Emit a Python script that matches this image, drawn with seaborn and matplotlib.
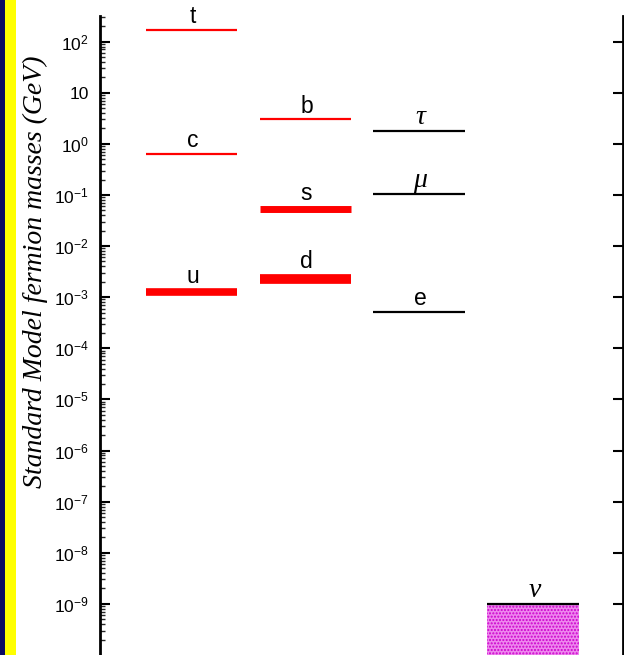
import pandas as pd
import matplotlib
matplotlib.use("Agg")
import matplotlib.pyplot as plt
from matplotlib.patches import Rectangle
from matplotlib.ticker import FixedLocator, FixedFormatter, LogLocator, NullFormatter
import seaborn as sns

# data
names = ["t", "c", "u", "b", "s", "d", "τ", "μ", "e", "ν"]
families = ["up", "up", "up", "down", "down", "down", "lepton", "lepton", "lepton", "neutrino"]
masses = [172.0, 0.63, 0.00125, 3.0, 0.053, 0.0023, 1.78, 0.106, 0.000511, 1e-9]
family_order = ["up", "down", "lepton", "neutrino"]

tick_values = [1e-9, 1e-8, 1e-7, 1e-6, 1e-5, 1e-4, 1e-3, 1e-2, 1e-1, 1e0, 1e1, 1e2]
tick_labels = ["$10^{-9}$", "$10^{-8}$", "$10^{-7}$", "$10^{-6}$", "$10^{-5}$", "$10^{-4}$",
               "$10^{-3}$", "$10^{-2}$", "$10^{-1}$", "$10^{0}$", "10", "$10^{2}$"]

df = pd.DataFrame({"name": names, "family": families, "mass": masses})
df["x"] = df["family"].map({f: i for i, f in enumerate(family_order)})

# styles
thick = {"u": 5.5, "s": 5.0, "d": 7.0}
family_color = {"up": "red", "down": "red", "lepton": "black", "neutrino": "black"}
greek = {"τ", "μ", "ν"}
half = 0.40

sns.set_theme(style="ticks")
plt.rcParams["font.family"] = ["Liberation Sans", "DejaVu Sans"]
plt.rcParams["mathtext.fontset"] = "custom"
plt.rcParams["mathtext.rm"] = "Liberation Sans"
plt.rcParams["mathtext.it"] = "Liberation Sans:italic"

fig = plt.figure(figsize=(6.24, 6.55), dpi=100)
ax = fig.add_axes([100 / 624, 0.0, 523 / 624, 1 - 16 / 655])

# left colour strip
fig.patches.append(Rectangle((0, 0), 4.5 / 624, 1, transform=fig.transFigure,
                             facecolor="#0b0b62", edgecolor="none"))
fig.patches.append(Rectangle((4.5 / 624, 0), 11.5 / 624, 1, transform=fig.transFigure,
                             facecolor="#ffff00", edgecolor="none"))

# neutrino box
nu = df[df["family"] == "neutrino"]
ax.bar(nu["x"], nu["mass"] - 1e-13, bottom=1e-13, width=2 * half,
       facecolor="#ee88ee", edgecolor="#cc00cc", hatch=".....", linewidth=0, zorder=1)

for _, row in df.iterrows():
    lw = thick.get(row["name"], 1.6)
    ax.hlines(row["mass"], row["x"] - half, row["x"] + half,
              color=family_color[row["family"]], linewidth=lw, zorder=3)
    if row["name"] in greek:
        kw = dict(family=["Liberation Serif", "DejaVu Serif"], style="italic", fontsize=20)
    else:
        kw = dict(fontsize=16.5)
    ax.annotate(row["name"], (row["x"], row["mass"]), xytext=(1, 4 + lw / 2),
                textcoords="offset points", ha="center", va="baseline", color="black", **kw)

ax.set_yscale("log")
ax.set_ylim(1e-10, 10 ** 2.5)
ax.set_xlim(-0.80, 3.79)

ax.yaxis.set_major_locator(FixedLocator(tick_values))
ax.yaxis.set_major_formatter(FixedFormatter(tick_labels))
ax.yaxis.set_minor_locator(LogLocator(base=10, subs=range(2, 10), numticks=30))
ax.yaxis.set_minor_formatter(NullFormatter())

ax.tick_params(axis="y", which="major", direction="in", length=7.5, width=1.5,
               left=True, right=True, labelsize=12.5, pad=8, colors="black")
ax.tick_params(axis="y", which="minor", direction="in", length=3.5, width=1.0,
               left=True, right=False)
ax.tick_params(axis="x", bottom=False, labelbottom=False)

for side in ["top", "bottom"]:
    ax.spines[side].set_visible(False)
for side in ["left", "right"]:
    ax.spines[side].set_linewidth(2.0)
    ax.spines[side].set_color("black")

ax.set_ylabel("Standard Model fermion masses (GeV)", family=["Liberation Serif", "DejaVu Serif"],
              style="italic", fontsize=20, color="black")
ax.yaxis.set_label_coords(-0.1, 0.60)

fig.savefig("out.png", dpi=100)
